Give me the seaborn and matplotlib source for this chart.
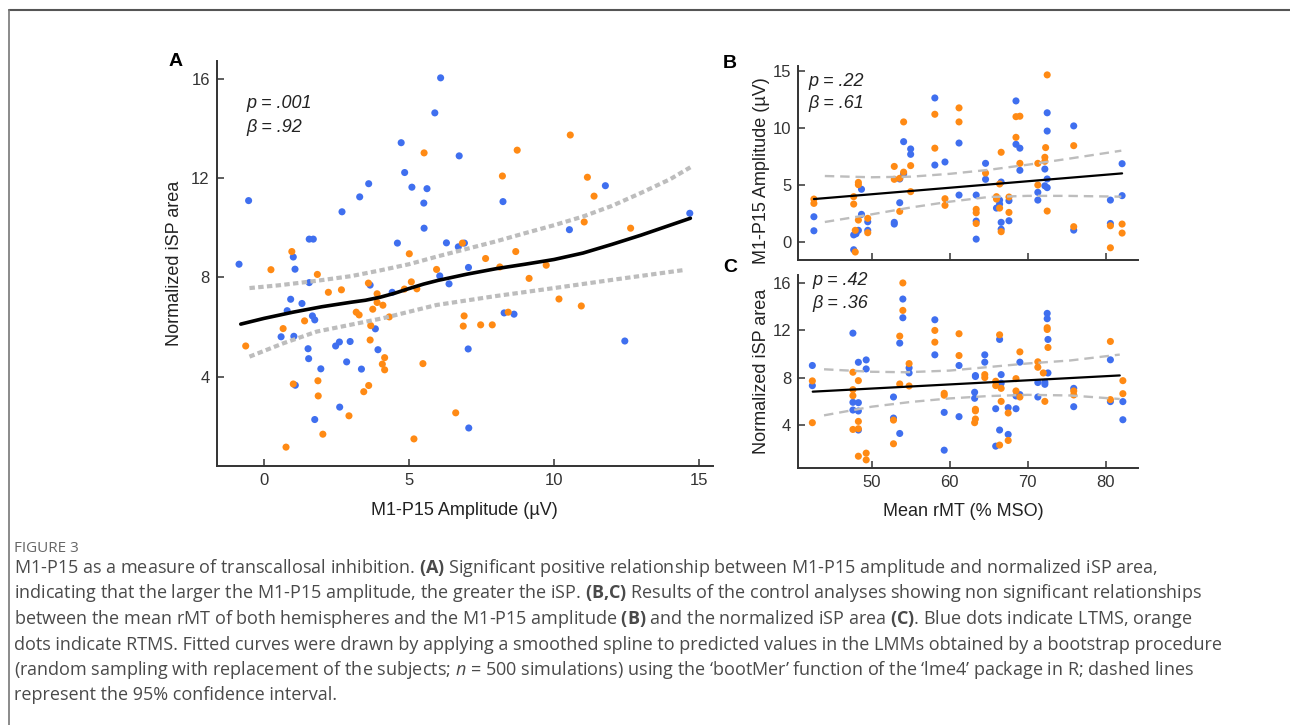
"""
Figure 3: M1-P15 vs iSP area and rMT control analyses
"""

import matplotlib
matplotlib.use("Agg")
import pandas as pd
import matplotlib.pyplot as plt
from matplotlib.lines import Line2D
import seaborn as sns

sns.set_style("ticks")
plt.rcParams["font.family"] = ["Liberation Sans", "DejaVu Sans"]
plt.rcParams["mathtext.fontset"] = "custom"
plt.rcParams["mathtext.rm"] = "Open Sans"
plt.rcParams["mathtext.bf"] = "Open Sans:bold"
plt.rcParams["mathtext.it"] = "Open Sans:italic"

BLUE = "#3F6FEF"
ORANGE = "#FF8A14"
GREY_CI = "#BDBDBD"

# ---- panel A : M1-P15 amplitude vs normalized iSP area ----
a_ltms_x = [-0.86, -0.53, 1.01, 1.07, 1.56, 1.70, 2.69, 3.30, 3.61, 4.73, 4.85, 5.10,
            5.62, 5.51, 5.52, 4.60, 5.89, 6.09, 6.73, 8.24, 11.77, 10.53, 14.68, 6.29,
            6.70, 6.91, 7.05, 6.06, 1.56, 0.92, 0.80, 1.31, 1.67, 1.75, 0.59, 1.03,
            1.52, 1.54, 1.96, 1.08, 1.75, 2.61, 2.47, 2.60, 2.97, 2.85, 3.36, 3.66,
            3.84, 3.93, 4.42, 6.38, 8.28, 8.62, 7.04, 7.06, 12.44]
a_ltms_y = [8.53, 11.09, 8.82, 8.33, 9.54, 9.54, 10.64, 11.24, 11.77, 13.42, 12.22, 11.63,
            11.57, 10.99, 9.98, 9.38, 14.62, 16.03, 12.89, 11.05, 11.69, 9.92, 10.58, 9.39,
            9.23, 9.38, 8.40, 8.06, 7.79, 7.12, 6.66, 6.95, 6.45, 6.29, 5.61, 5.63,
            5.13, 4.73, 4.32, 3.66, 2.28, 2.78, 5.24, 5.40, 5.42, 4.60, 4.31, 7.69,
            5.93, 5.09, 7.40, 7.74, 6.57, 6.52, 5.12, 1.94, 5.44]
a_rtms_x = [0.24, 0.96, 1.84, 5.52, 5.01, 5.95, 10.56, 8.73, 8.22, 11.15, 11.38, 11.04,
            12.64, 6.84, 7.64, 8.68, 8.13, 9.73, 9.14, -0.63, 0.66, 2.22, 2.67, 1.40,
            1.01, 1.86, 1.87, 2.03, 0.76, 2.93, 3.44, 3.61, 3.18, 3.28, 3.60, 3.90,
            3.90, 4.10, 3.75, 3.68, 4.32, 3.66, 4.16, 4.08, 4.16, 4.84, 5.08, 5.27,
            5.48, 5.17, 10.17, 10.94, 6.90, 6.87, 7.47, 7.87, 8.42, 6.61]
a_rtms_y = [8.31, 9.04, 8.12, 13.01, 8.95, 8.32, 13.73, 13.12, 12.08, 12.03, 11.27, 10.23,
            9.98, 9.38, 8.76, 9.04, 8.42, 8.49, 7.96, 5.24, 5.94, 7.40, 7.50, 6.25,
            3.71, 3.84, 3.23, 1.69, 1.17, 2.43, 3.40, 3.65, 6.60, 6.49, 7.77, 7.34,
            6.99, 6.88, 6.72, 6.06, 6.41, 5.48, 4.77, 4.51, 4.28, 7.53, 7.82, 7.54,
            4.53, 1.50, 7.13, 6.85, 6.45, 6.04, 6.09, 6.09, 6.60, 2.55]

a_fit_x = [-0.8, 0, 1, 2, 3, 3.5, 4, 4.5, 5, 5.5, 6, 7, 8, 9, 10, 11, 12, 13, 14, 14.7]
a_fit_y = [6.12, 6.35, 6.6, 6.82, 7.0, 7.08, 7.2, 7.36, 7.55, 7.73, 7.88, 8.13, 8.35,
           8.53, 8.72, 8.98, 9.33, 9.7, 10.1, 10.38]
a_hi_x = [-0.5, 0.5, 1.8, 3, 4, 5, 6, 7, 8, 9, 10, 11, 12, 13, 14, 14.7]
a_hi_y = [7.57, 7.68, 7.86, 8.05, 8.28, 8.53, 8.85, 9.15, 9.45, 9.78, 10.1, 10.45, 10.88,
          11.4, 11.95, 12.43]
a_lo_x = [-0.5, 0.67, 1.82, 2.97, 4.11, 5.95, 8, 10, 12, 14.5]
a_lo_y = [4.81, 5.35, 5.82, 6.09, 6.36, 6.89, 7.25, 7.57, 7.9, 8.3]

# ---- panel B : mean rMT vs M1-P15 amplitude ----
b_ltms_x = [42.6, 42.6, 47.7, 47.7, 48.0, 48.3, 48.7, 48.7, 49.5, 49.5, 52.9, 52.9,
            53.6, 53.6, 54.1, 54.1, 55.0, 55.0, 58.1, 58.1, 59.4, 61.2, 61.2, 63.4,
            63.4, 63.4, 64.6, 64.6, 66.0, 66.4, 66.4, 66.6, 66.6, 66.6, 67.6, 67.6,
            68.5, 68.5, 69.0, 69.0, 71.3, 71.3, 72.5, 72.5, 72.2, 72.5, 72.2, 72.5,
            75.9, 75.9, 80.6, 80.6, 82.1, 82.1]
b_ltms_y = [2.19, 0.96, -0.7, 0.6, 0.7, 1.0, 4.6, 2.4, 1.75, 1.0, 1.7, 1.55,
            3.42, 5.5, 5.94, 8.77, 8.13, 7.66, 12.6, 6.72, 6.99, 8.65, 4.09, 4.09,
            1.81, 0.23, 6.87, 5.47, 2.95, 3.65, 3.3, 1.7, 1.1, 5.23, 3.6, 1.84,
            12.34, 8.54, 8.2, 6.26, 4.33, 3.65, 11.3, 9.7, 6.37, 5.5, 4.9, 4.74,
            10.15, 1.02, 3.65, 1.6, 6.84, 4.04]
b_rtms_x = [42.6, 42.6, 47.7, 47.7, 48.3, 48.3, 48.3, 47.9, 47.9, 49.5, 49.5, 52.9,
            52.9, 53.6, 53.6, 54.1, 54.1, 55.0, 55.0, 58.1, 58.1, 59.4, 59.4, 61.2,
            61.2, 63.4, 63.4, 63.4, 64.6, 66.0, 66.0, 66.4, 66.6, 66.6, 66.4, 67.6,
            67.6, 68.5, 69.0, 68.5, 69.0, 71.3, 71.3, 72.3, 72.2, 72.2, 72.5, 72.5,
            75.9, 75.9, 80.6, 80.6, 82.1, 82.1]
b_rtms_y = [3.74, 3.36, 3.95, 3.30, 5.2, 5.0, 1.9, 1.0, -0.9, 2.05, 0.79, 6.6,
            5.47, 5.56, 2.66, 6.1, 10.5, 6.67, 4.39, 11.17, 8.2, 3.77, 3.19, 11.73,
            10.5, 2.84, 2.54, 1.6, 6.02, 3.95, 3.74, 2.95, 0.88, 7.84, 5.06, 3.92,
            2.57, 10.96, 11.0, 9.15, 6.87, 6.87, 4.97, 8.25, 7.4, 7.05, 2.69, 14.62,
            8.42, 1.32, 1.4, -0.53, 1.55, 0.76]

b_fit_x = [42.6, 82.1]
b_fit_y = [3.74, 5.99]
b_hi_x = [44, 50, 55, 60, 65, 70, 75, 82]
b_hi_y = [5.76, 5.65, 5.7, 5.95, 6.3, 6.75, 7.25, 7.98]
b_lo_x = [44, 50, 55, 60, 65, 70, 75, 82]
b_lo_y = [1.73, 2.4, 3.0, 3.51, 3.92, 4.02, 4.02, 3.95]

# ---- panel C : mean rMT vs normalized iSP area ----
c_ltms_x = [42.4, 42.4, 47.6, 47.6, 47.6, 48.3, 48.3, 48.3, 48.3, 49.3, 49.3, 52.8,
            52.8, 53.6, 53.6, 54.0, 54.0, 54.8, 54.8, 58.1, 58.1, 59.3, 59.3, 61.2,
            61.2, 63.3, 63.3, 63.2, 63.2, 64.5, 64.5, 65.9, 65.9, 66.4, 66.6, 66.6,
            66.4, 67.5, 67.5, 68.5, 68.5, 69.0, 69.0, 71.3, 71.3, 72.5, 72.5, 72.6,
            72.6, 72.2, 72.2, 75.9, 75.9, 80.6, 80.6, 82.2, 82.2]
c_ltms_y = [9.03, 7.33, 11.76, 5.92, 5.27, 9.3, 5.89, 5.19, 3.58, 9.5, 8.74, 6.37,
            4.59, 10.92, 3.29, 14.64, 13.06, 8.83, 8.4, 12.89, 9.93, 5.07, 1.88, 9.03,
            4.71, 8.18, 8.1, 6.77, 6.26, 9.93, 9.31, 5.38, 2.22, 11.23, 8.26, 7.53,
            3.58, 5.47, 3.21, 6.46, 5.38, 9.31, 6.57, 7.59, 6.37, 13.43, 12.98, 11.23,
            8.4, 7.61, 7.44, 7.1, 5.55, 9.51, 5.98, 5.98, 4.45]
c_rtms_x = [42.4, 42.4, 47.6, 47.6, 47.6, 47.6, 48.3, 48.3, 48.3, 48.3, 49.3, 49.3,
            52.8, 52.8, 53.6, 53.6, 54.0, 54.0, 54.8, 54.8, 58.1, 58.1, 59.3, 59.3,
            61.2, 61.2, 63.3, 63.3, 63.3, 63.2, 64.5, 64.5, 65.9, 65.9, 66.4, 66.6,
            66.6, 66.4, 67.5, 67.5, 68.5, 68.5, 69.0, 69.0, 71.3, 71.3, 72.5, 72.5,
            72.6, 72.0, 72.2, 75.9, 75.9, 80.6, 80.6, 82.2, 82.2]
c_rtms_y = [7.73, 4.2, 8.46, 6.99, 6.48, 3.63, 7.75, 4.31, 3.69, 1.37, 1.63, 1.06,
            4.42, 2.42, 11.51, 7.47, 16.0, 13.68, 9.19, 7.3, 11.99, 11.0, 6.68, 6.52,
            11.71, 9.87, 5.33, 5.2, 4.51, 4.2, 8.26, 8.01, 7.7, 7.33, 11.62, 7.1,
            6.0, 2.31, 5.02, 2.7, 7.92, 6.88, 10.18, 6.37, 9.34, 8.88, 12.22, 12.07,
            10.55, 8.4, 6.0, 6.88, 6.54, 11.06, 6.15, 7.75, 6.65]

c_fit_x = [42.45, 81.8]
c_fit_y = [6.82, 8.19]
c_hi_x = [43.9, 50, 54.4, 60, 65, 70, 75.4, 81.8]
c_hi_y = [8.71, 8.5, 8.46, 8.6, 8.9, 9.2, 9.45, 9.95]
c_lo_x = [43.9, 50, 55, 60, 65, 70, 75.4, 81.8]
c_lo_y = [4.82, 5.55, 5.95, 6.25, 6.45, 6.55, 6.5, 6.2]

caption_lines = [
    r"M1-P15 as a measure of transcallosal inhibition. $\mathbf{(A)}$ Significant positive relationship between M1-P15 amplitude and normalized iSP area,",
    r"indicating that the larger the M1-P15 amplitude, the greater the iSP. $\mathbf{(B{,}C)}$ Results of the control analyses showing non significant relationships",
    r"between the mean rMT of both hemispheres and the M1-P15 amplitude $\mathbf{(B)}$ and the normalized iSP area $\mathbf{(C)}$. Blue dots indicate LTMS, orange",
    r"dots indicate RTMS. Fitted curves were drawn by applying a smoothed spline to predicted values in the LMMs obtained by a bootstrap procedure",
    r"(random sampling with replacement of the subjects; $n$ = 500 simulations) using the ‘bootMer’ function of the ‘lme4’ package in R; dashed lines",
    r"represent the 95% confidence interval.",
]

W, H = 1290, 725


def fx(px):
    return px / W


def fy(py):
    return 1 - py / H


def points_frame(lx, ly, rx, ry):
    df_l = pd.DataFrame({"x": lx, "y": ly, "hemi": "LTMS"})
    df_r = pd.DataFrame({"x": rx, "y": ry, "hemi": "RTMS"})
    return pd.concat([df_l, df_r], ignore_index=True)


def draw_panel(ax, pts, fit, hi, lo, lw_fit, lw_ci, dashes):
    sns.scatterplot(data=pts, x="x", y="y", hue="hemi",
                    palette={"LTMS": BLUE, "RTMS": ORANGE}, s=26, linewidth=0,
                    legend=False, ax=ax, zorder=2)
    for (cx, cy) in (hi, lo):
        ax.plot(cx, cy, color=GREY_CI, lw=lw_ci, dashes=dashes,
                solid_capstyle="butt", zorder=3)
    ax.plot(fit[0], fit[1], color="black", lw=lw_fit, zorder=4)
    sns.despine(ax=ax)
    for s in ("left", "bottom"):
        ax.spines[s].set_color("#333333")
        ax.spines[s].set_linewidth(1.4)
    ax.tick_params(direction="in", length=5, width=1.1, color="#333333",
                   labelsize=12, labelcolor="#333333", pad=5)
    ax.set_xlabel("")
    ax.set_ylabel("")


fig = plt.figure(figsize=(W / 100, H / 100), dpi=100)

axA = fig.add_axes([fx(216.7), fy(466), 496 / W, 405.3 / H])
axB = fig.add_axes([fx(798.3), fy(260), 339.4 / W, 194 / H])
axC = fig.add_axes([fx(798.3), fy(467.7), 339.4 / W, 192.7 / H])

draw_panel(axA, points_frame(a_ltms_x, a_ltms_y, a_rtms_x, a_rtms_y),
           (a_fit_x, a_fit_y), (a_hi_x, a_hi_y), (a_lo_x, a_lo_y),
           2.6, 3.0, (1.3, 0.8))
axA.set_xlim(-1.63, 15.47)
axA.set_ylim(0.41, 16.72)
axA.set_xticks([0, 5, 10, 15])
axA.set_yticks([4, 8, 12, 16])
axA.set_xlabel("M1-P15 Amplitude (µV)", fontsize=13, color="#222222")
axA.set_ylabel("Normalized iSP area", fontsize=13, color="#222222")
axA.xaxis.set_label_coords(0.5, -0.09)
axA.yaxis.set_label_coords(-0.068, 0.5)

draw_panel(axB, points_frame(b_ltms_x, b_ltms_y, b_rtms_x, b_rtms_y),
           (b_fit_x, b_fit_y), (b_hi_x, b_hi_y), (b_lo_x, b_lo_y),
           1.6, 1.7, (4, 2.5))
axB.set_xlim(40.6, 84.1)
axB.set_ylim(-1.6, 15.4)
axB.set_xticks([50, 60, 70, 80])
axB.set_yticks([0, 5, 10, 15])
axB.tick_params(labelbottom=False)
axB.set_ylabel("M1-P15 Amplitude (µV)", fontsize=13, color="#222222")
axB.yaxis.set_label_coords(-0.082, 0.46)

draw_panel(axC, points_frame(c_ltms_x, c_ltms_y, c_rtms_x, c_rtms_y),
           (c_fit_x, c_fit_y), (c_hi_x, c_hi_y), (c_lo_x, c_lo_y),
           1.6, 1.7, (4, 2.5))
axC.set_xlim(40.6, 84.1)
axC.set_ylim(0.4, 16.67)
axC.set_xticks([50, 60, 70, 80])
axC.set_yticks([4, 8, 12, 16])
axC.set_xlabel("Mean rMT (% MSO)", fontsize=13, color="#222222")
axC.set_ylabel("Normalized iSP area", fontsize=13, color="#222222")
axC.xaxis.set_label_coords(0.485, -0.185)
axC.yaxis.set_label_coords(-0.082, 0.5)

# statistics and panel letters
stat_kw = dict(fontsize=13, fontstyle="italic", color="#222222", va="center")
fig.text(fx(246), fy(103), "p = .001", **stat_kw)
fig.text(fx(246), fy(127), "β = .92", **stat_kw)
fig.text(fx(808), fy(81), "p = .22", **stat_kw)
fig.text(fx(808), fy(103), "β = .61", **stat_kw)
fig.text(fx(812), fy(281), "p = .42", **stat_kw)
fig.text(fx(812), fy(303), "β = .36", **stat_kw)

letter_kw = dict(fontsize=14, fontweight="bold", color="black", va="center")
fig.text(fx(169), fy(62), "A", **letter_kw)
fig.text(fx(723), fy(63), "B", **letter_kw)
fig.text(fx(723), fy(268), "C", **letter_kw)

# caption
fig.text(fx(14), fy(548), "FIGURE 3", fontsize=11, family="Open Sans",
         color="#666666", va="center")
for i, line in enumerate(caption_lines):
    fig.text(fx(14), fy(568 + 25.5 * i), line, fontsize=13, family="Open Sans",
             color="#4a4a4a", va="center")

# frame around the figure
fig.add_artist(Line2D([fx(9), 1], [fy(10), fy(10)], color="#555555", lw=1.5))
fig.add_artist(Line2D([fx(9), fx(9)], [0, fy(10)], color="#777777", lw=1.2))

fig.savefig("out.png", dpi=100)
